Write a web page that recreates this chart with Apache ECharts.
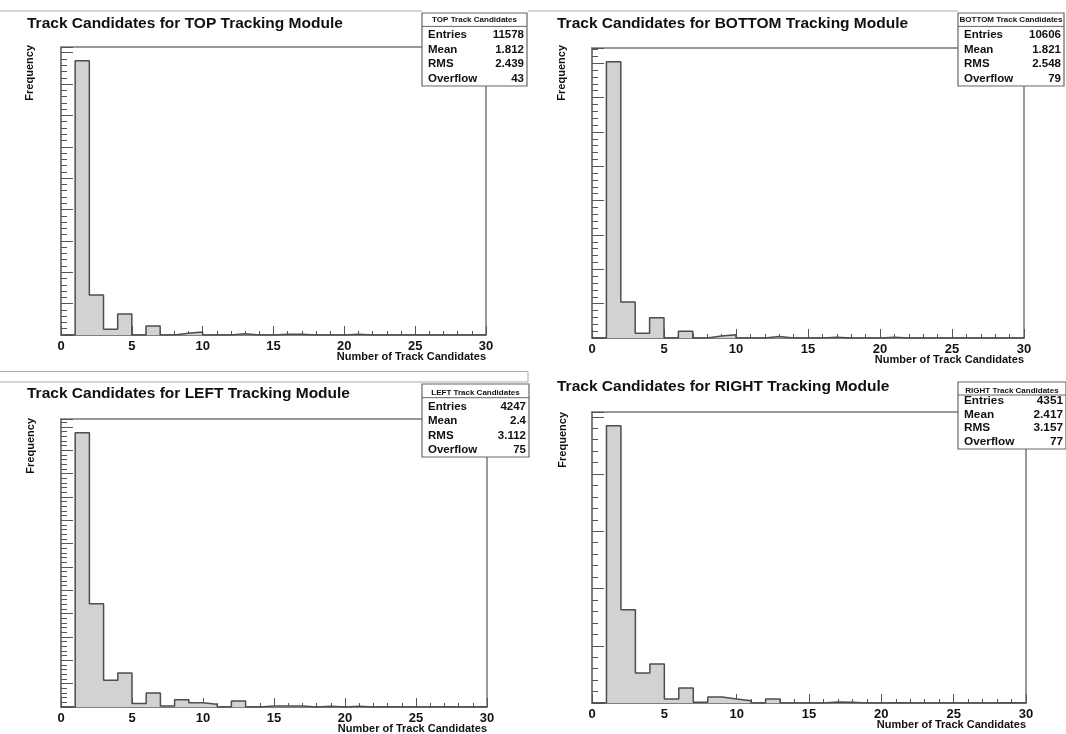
<!DOCTYPE html>
<html>
<head>
<meta charset="utf-8">
<script src="https://cdn.jsdelivr.net/npm/echarts@6/dist/echarts.min.js"></script>
<style>
  html, body { margin: 0; padding: 0; background: #fff; }
  #chart { width: 1066px; height: 734px; }
</style>
</head>
<body>
<div id="chart"></div>
<script>
// Histogram contents: bin i covers [i, i+1) track candidates, 30 bins.
const topCounts    = [0, 8745, 1277, 181, 670, 0, 287, 0, 53, 96, 0, 0, 40, 0, 0, 25, 25, 0, 0, 0, 25, 0, 0, 0, 0, 0, 0, 0, 0, 0];
const bottomCounts = [0, 8040, 1049, 136, 592, 0, 194, 0, 55, 97, 0, 0, 45, 0, 0, 0, 25, 0, 0, 0, 25, 0, 0, 0, 0, 0, 0, 0, 0, 0];
const leftCounts   = [0, 2351, 886, 229, 291, 29, 120, 9, 63, 37, 23, 0, 51, 0, 9, 9, 9, 0, 6, 0, 6, 0, 3, 0, 0, 0, 3, 0, 0, 3];
const rightCounts  = [0, 2421, 814, 262, 340, 35, 131, 6, 52, 35, 20, 0, 35, 0, 0, 0, 9, 6, 0, 0, 3, 0, 0, 0, 0, 0, 0, 0, 3, 0];

const panelTitles = [
  'Track Candidates for TOP Tracking Module',
  'Track Candidates for BOTTOM Tracking Module',
  'Track Candidates for LEFT Tracking Module',
  'Track Candidates for RIGHT Tracking Module'
];
const statsNames    = ['TOP Track Candidates', 'BOTTOM Track Candidates', 'LEFT Track Candidates', 'RIGHT Track Candidates'];
const statsEntries  = ['11578', '10606', '4247', '4351'];
const statsMean     = ['1.812', '1.821', '2.4', '2.417'];
const statsRMS      = ['2.439', '2.548', '3.112', '3.157'];
const statsOverflow = ['43', '79', '75', '77'];

const xTickValues = [0, 5, 10, 15, 20, 25, 30];
const xTitle = 'Number of Track Candidates';
const yTitle = 'Frequency';
const yMajorStep = [1000, 1000, 200, 500];
const yMinorStep = [200, 200, 40, 100];

const allCounts = [topCounts, bottomCounts, leftCounts, rightCounts];

// Pad placement: plot frame [left, top, width, height], title, stats box, y title.
const pads = [
  { frame: [61, 47, 425, 288],  title: [27, 16],  box: [422, 13, 105, 73, 6.7, 13.4, 21.7, 14.8, 11.5], freq: [30, 45] },
  { frame: [592, 48, 432, 290], title: [557, 16], box: [958, 13, 106, 73, 6.7, 13.4, 21.7, 14.8, 11.5], freq: [562, 45] },
  { frame: [61, 419, 426, 288], title: [27, 386], box: [422, 384, 107, 73, 8.4, 13.7, 23.0, 14.2, 11.5], freq: [31, 418] },
  { frame: [592, 412, 434, 291], title: [557, 379], box: [958, 382, 108, 67, 8.4, 13.0, 18.6, 13.8, 11.8], freq: [563, 412] }
];

const FONT = '"Liberation Sans", Arial, Helvetica, sans-serif';
const FRAME = '#777';
const INK = '#111';

// Step outline of a histogram: horizontal across each bin, vertical between bins.
function stepData(counts) {
  const d = counts.map((c, i) => [i, c]);
  d.push([counts.length, counts[counts.length - 1]]);
  d.push([counts.length, 0]);
  return d;
}

function txt(x, y, text, font, align) {
  return { type: 'text', x, y,
    style: { text, font, fill: INK, align, verticalAlign: 'middle', textAlign: align, textVerticalAlign: 'middle' } };
}

const grid = [], xAxis = [], yAxis = [], series = [], title = [], graphic = [];

pads.forEach((p, i) => {
  const [l, t, w, h] = p.frame;
  const counts = allCounts[i];
  const yMax = Math.round(1.05 * Math.max(...counts));

  grid.push({ left: l, top: t, width: w, height: h, show: true, borderColor: FRAME, borderWidth: 1.5,
              containLabel: false, outerBoundsMode: 'none' });

  xAxis.push({
    gridIndex: i, type: 'value', min: 0, max: 30, interval: 5,
    axisLine: { show: true, lineStyle: { color: FRAME, width: 1.5 } },
    axisTick: { show: true, inside: true, length: 9, lineStyle: { color: '#555', width: 1 } },
    minorTick: { show: true, splitNumber: 5, length: 4, lineStyle: { color: '#555', width: 1 } },
    splitLine: { show: false },
    axisLabel: {
      margin: 5, color: INK, fontFamily: FONT, fontWeight: 'bold', fontSize: 13,
      formatter: v => (xTickValues.indexOf(v) >= 0 ? String(v) : '')
    }
  });

  // major ticks
  yAxis.push({
    gridIndex: i, type: 'value', min: 0, max: yMax, interval: yMajorStep[i],
    axisLine: { show: true, lineStyle: { color: FRAME, width: 1.5 } },
    axisTick: { show: true, inside: true, length: 12, lineStyle: { color: '#555', width: 1 } },
    axisLabel: { show: false }, splitLine: { show: false }
  });
  // minor ticks
  yAxis.push({
    gridIndex: i, type: 'value', min: 0, max: yMax, interval: yMinorStep[i], position: 'left',
    axisLine: { show: false },
    axisTick: { show: true, inside: true, length: 6, lineStyle: { color: '#555', width: 1 } },
    axisLabel: { show: false }, splitLine: { show: false }
  });

  series.push({
    type: 'line', step: 'end', xAxisIndex: i, yAxisIndex: 2 * i,
    data: stepData(counts), symbol: 'none', showSymbol: false,
    lineStyle: { color: '#4d4d4d', width: 1.5 },
    areaStyle: { color: '#d2d2d2', opacity: 1, origin: 'start' },
    z: 3, animation: false, silent: true
  });

  title.push({
    text: panelTitles[i], left: p.title[0], top: p.title[1], padding: 0,
    textStyle: { fontFamily: FONT, fontWeight: 'bold', fontSize: 15.5, color: INK }
  });

  // x-axis title, right-aligned under the axis end
  graphic.push(Object.assign(txt(l + w, t + h + 22, xTitle, 'bold 11px ' + FONT, 'right'), { z: 100 }));

  // y-axis title, reading bottom to top, ending at the pad top
  graphic.push(Object.assign(txt(p.freq[0], p.freq[1], yTitle, 'bold 11px ' + FONT, 'right'),
                             { rotation: Math.PI / 2, z: 100 }));

  // statistics box
  const [bx, by, bw, bh, tOff, sOff, r0, dr, fs] = p.box;
  const rows = [['Entries', statsEntries[i]], ['Mean', statsMean[i]], ['RMS', statsRMS[i]], ['Overflow', statsOverflow[i]]];
  const children = [
    { type: 'rect', shape: { x: bx, y: by, width: bw, height: bh }, style: { fill: '#fff', stroke: '#666', lineWidth: 1.2 } },
    { type: 'line', shape: { x1: bx, y1: by + sOff, x2: bx + bw, y2: by + sOff }, style: { stroke: '#666', lineWidth: 1 } },
    txt(bx + bw / 2, by + tOff, statsNames[i], 'bold 8px ' + FONT, 'center')
  ];
  rows.forEach((r, k) => {
    const yy = by + r0 + k * dr;
    children.push(txt(bx + 6, yy, r[0], 'bold ' + fs + 'px ' + FONT, 'left'));
    children.push(txt(bx + bw - 3, yy, r[1], 'bold ' + fs + 'px ' + FONT, 'right'));
  });
  graphic.push({ type: 'group', z: 100, children });
});

// pad edges between the panels
graphic.push({ type: 'line', z: 90, shape: { x1: 0, y1: 11, x2: 422, y2: 11 }, style: { stroke: '#aaa', lineWidth: 1 } });
graphic.push({ type: 'line', z: 90, shape: { x1: 528, y1: 11, x2: 958, y2: 11 }, style: { stroke: '#aaa', lineWidth: 1 } });
graphic.push({ type: 'rect', z: 90, shape: { x: -2, y: 371.5, width: 530, height: 10.5 }, style: { fill: '#fff', stroke: '#aaa', lineWidth: 1 } });

const chart = echarts.init(document.getElementById('chart'), null, { renderer: 'canvas' });
chart.setOption({
  animation: false,
  backgroundColor: '#fff',
  title, grid, xAxis, yAxis, series, graphic
});
</script>
</body>
</html>
